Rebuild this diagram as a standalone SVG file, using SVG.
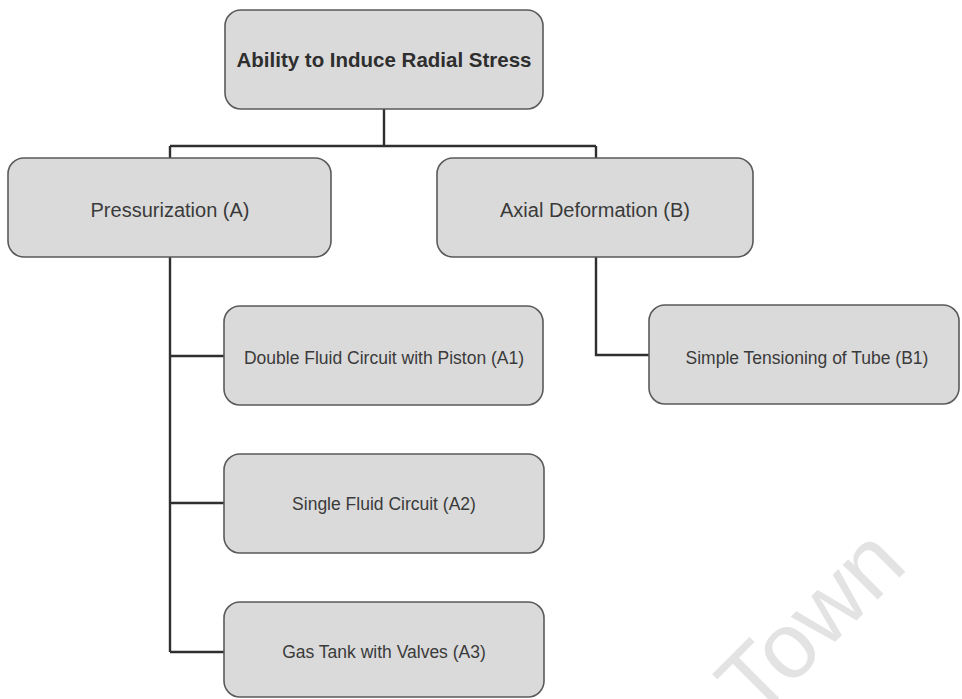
<svg xmlns="http://www.w3.org/2000/svg" width="962" height="699" viewBox="0 0 962 699">
  <style>
    .box { fill: #dadada; stroke: #5a5a5a; stroke-width: 1.6; }
    .lbl { font-family: "Liberation Sans", Arial, Helvetica, sans-serif; fill: #3a3a3a; text-anchor: middle; }
    .main { font-size: 20.5px; font-weight: bold; fill: #2e2e2e; }
    .mid { font-size: 20px; }
    .sub { font-size: 17.5px; }
    .wire { fill: none; stroke: #2f2f2f; stroke-width: 2.4; }
    .wm { font-family: "Liberation Sans", Arial, sans-serif; font-size: 93px; fill: #e3e3e3; }
  </style>
  <rect width="962" height="699" fill="#ffffff"/>

  <!-- faint watermark -->
  <text class="wm" transform="translate(756 721) rotate(-45)">Town</text>

  <g id="connectors">
    <path class="wire" d="M384 109 V146 M170 146 H596 M170 146 V158 M596 146 V158"/>
    <path class="wire" d="M170 257 V652 M170 356 H224 M170 503 H224 M170 652 H224"/>
    <path class="wire" d="M596 257 V355 H649"/>
  </g>

  <g id="root">
    <rect class="box" x="225" y="10" width="318" height="99" rx="16"/>
    <text class="lbl main" x="384" y="67">Ability to Induce Radial Stress</text>
  </g>
  <g id="A">
    <rect class="box" x="8" y="158" width="323" height="99" rx="16"/>
    <text class="lbl mid" x="170" y="217">Pressurization (A)</text>
  </g>
  <g id="B">
    <rect class="box" x="437" y="158" width="316" height="99" rx="16"/>
    <text class="lbl mid" x="595" y="217">Axial Deformation (B)</text>
  </g>
  <g id="A1">
    <rect class="box" x="224" y="306" width="319" height="99" rx="16"/>
    <text class="lbl sub" x="384" y="364">Double Fluid Circuit with Piston (A1)</text>
  </g>
  <g id="B1">
    <rect class="box" x="649" y="305" width="310" height="99" rx="16"/>
    <text class="lbl sub" x="807" y="364">Simple Tensioning of Tube (B1)</text>
  </g>
  <g id="A2">
    <rect class="box" x="224" y="454" width="320" height="99" rx="16"/>
    <text class="lbl sub" x="384" y="510">Single Fluid Circuit (A2)</text>
  </g>
  <g id="A3">
    <rect class="box" x="224" y="602" width="320" height="95" rx="16"/>
    <text class="lbl sub" x="384" y="658">Gas Tank with Valves (A3)</text>
  </g>
</svg>
